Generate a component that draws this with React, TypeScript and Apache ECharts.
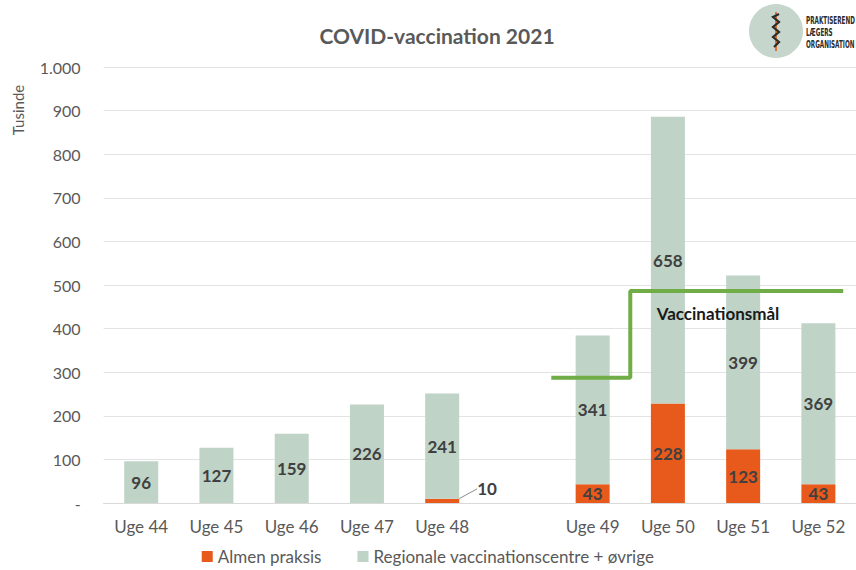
import React, { useEffect, useRef } from "react";
import * as echarts from "echarts";

const categories = ["Uge 44", "Uge 45", "Uge 46", "Uge 47", "Uge 48", "", "Uge 49", "Uge 50", "Uge 51", "Uge 52"];
const almenPraksis: (number | null)[] = [0, 0, 0, 0, 10, null, 43, 228, 123, 43];
const regionale: (number | null)[] = [96, 127, 159, 226, 241, null, 341, 658, 399, 369];
// goal step line on a hidden 0..10 value axis spanning the category band
const goalX = [5.95, 7.0, 7.0, 9.83];
const goalY = [287, 287, 486, 486];
const yTicks = [0, 100, 200, 300, 400, 500, 600, 700, 800, 900, 1000];

const ORANGE = "#e85a1c";
const GREEN = "#bfd3c7";
const TEXT = "#595959";
const FONT = "Lato, 'Open Sans', sans-serif";
const LOGO_FONT = "bold 10px 'DejaVu Sans Condensed', 'DejaVu Sans', sans-serif";

export default function App() {
  const ref = useRef<HTMLDivElement>(null);
  useEffect(() => {
    if (!ref.current) return;
    const chart = echarts.init(ref.current, null, { renderer: "svg" });
    const fmtY = (v: number) => (v === 0 ? "-" : v >= 1000 ? (v / 1000).toFixed(0) + "." + String(v % 1000).padStart(3, "0") : String(v));
    chart.setOption({
      animation: false,
      textStyle: { fontFamily: FONT },
      title: {
        text: "COVID-vaccination 2021",
        left: 432,
        textAlign: "center",
        top: 20,
        textStyle: { fontFamily: FONT, fontSize: 21, fontWeight: "bold", color: TEXT },
      },
      legend: {
        bottom: 0,
        left: "center",
        itemWidth: 11,
        itemHeight: 11,
        itemGap: 36,
        icon: "rect",
        textStyle: { fontFamily: FONT, fontSize: 17, color: TEXT },
        data: ["Almen praksis", "Regionale vaccinationscentre + øvrige"],
      },
      grid: { left: 103.6, right: -4.8, top: 67, bottom: 67, containLabel: false },
      xAxis: [
        {
          type: "category",
          data: categories,
          axisLine: { lineStyle: { color: "#d9d9d9", width: 1 } },
          axisTick: { show: false },
          axisLabel: { color: TEXT, fontSize: 17, fontFamily: FONT, margin: 15, interval: 0 },
        },
        { type: "value", min: 0, max: 10, show: false },
      ],
      yAxis: {
        type: "value",
        min: 0,
        max: 1000,
        interval: 100,
        axisLine: { show: false },
        axisTick: { show: false },
        splitLine: { lineStyle: { color: "#e3e3e3", width: 1 } },
        axisLabel: { color: TEXT, fontSize: 16, fontFamily: FONT, margin: 23, formatter: (v: number) => (yTicks.includes(v) ? fmtY(v) : "") },
      },
      series: [
        {
          name: "Almen praksis",
          type: "bar",
          stack: "a",
          barWidth: 34,
          itemStyle: { color: ORANGE },
          data: almenPraksis.map((v, i) =>
            i === 4
              ? {
                  value: v,
                  label: { show: true, position: "right", distance: 4 },
                  labelLine: { show: true, lineStyle: { color: "#8c8c8c", width: 1 } },
                }
              : v
          ),
          label: {
            show: true,
            position: "inside",
            color: "#404040",
            fontWeight: "bold",
            fontSize: 17,
            fontFamily: FONT,
            formatter: (p: any) => (p.value ? String(p.value) : ""),
          },
          labelLayout: (p: any) => (p.dataIndex === 4 ? { dx: 14, dy: -12 } : {}),
        },
        {
          name: "Regionale vaccinationscentre + øvrige",
          type: "bar",
          stack: "a",
          barWidth: 34,
          itemStyle: { color: GREEN },
          data: regionale,
          label: {
            show: true,
            position: "inside",
            color: "#404040",
            fontWeight: "bold",
            fontSize: 17,
            fontFamily: FONT,
            formatter: (p: any) => (p.value ? String(p.value) : ""),
          },
        },
        {
          name: "Vaccinationsmål",
          type: "line",
          xAxisIndex: 1,
          symbol: "none",
          lineStyle: { color: "#70ad47", width: 4 },
          data: goalX.map((x, i) => [x, goalY[i]]),
          z: 5,
        },
      ],
      graphic: [
        {
          type: "text",
          x: 18,
          y: 110,
          rotation: Math.PI / 2,
          style: { text: "Tusinde", fill: TEXT, font: `15px ${FONT}`, align: "center", verticalAlign: "middle" },
        },
        {
          type: "text",
          x: 718,
          y: 313,
          style: { text: "Vaccinationsmål", fill: "#1a1a1a", font: `bold 17px ${FONT}`, align: "center", verticalAlign: "middle" },
          z: 10,
        },
        { type: "circle", shape: { cx: 776, cy: 31, r: 27 }, style: { fill: "#c6d6cc" } },
        { type: "line", shape: { x1: 776, y1: 12, x2: 776, y2: 51 }, style: { stroke: "#e0703a", lineWidth: 2 } },
        {
          type: "polyline",
          shape: { points: [[779, 14], [773, 17], [779, 22], [773, 27], [779, 32], [773, 37], [779, 42], [774, 47]] },
          style: { stroke: "#2b2b2b", lineWidth: 2.2, fill: "none" },
        },
        {
          type: "text",
          x: 806,
          y: 20,
          scaleX: 0.63,
          style: { text: "PRAKTISEREND", fill: "#2b2b2b", font: LOGO_FONT, verticalAlign: "middle" },
        },
        {
          type: "text",
          x: 806,
          y: 32,
          scaleX: 0.63,
          style: { text: "LÆGERS", fill: "#2b2b2b", font: LOGO_FONT, verticalAlign: "middle" },
        },
        {
          type: "text",
          x: 806,
          y: 44,
          scaleX: 0.63,
          style: { text: "ORGANISATION", fill: "#2b2b2b", font: LOGO_FONT, verticalAlign: "middle" },
        },
      ],
    });
    return () => chart.dispose();
  }, []);
  return <div ref={ref} style={{ position: "fixed", left: 0, top: 0, width: 856, height: 570, background: "#fff" }} />;
}
